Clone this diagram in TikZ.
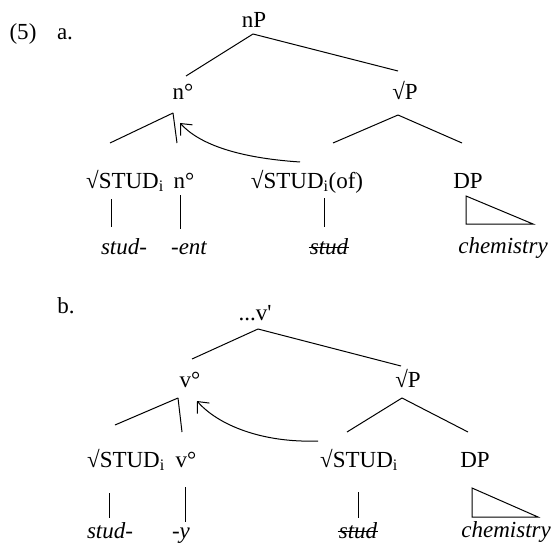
\documentclass[tikz,border=0pt]{standalone}
\usepackage{fontspec}
\setmainfont{Liberation Serif}
\usetikzlibrary{arrows.meta}
\begin{document}
\begin{tikzpicture}[x=1pt,y=-1pt,
  font=\fontsize{23}{27}\selectfont,
  lbl/.style={anchor=base,inner sep=0pt},
  word/.style={anchor=base,inner sep=0pt,font=\fontsize{23}{27}\selectfont\itshape},
  edge/.style={line width=1pt},
  strike/.style={line width=0.9pt},
  mv/.style={line width=1pt,-{Straight Barb[length=9pt,width=16pt]}}]
\useasboundingbox (0,0) rectangle (553,548);

% ---------- labels
\node[lbl] (lab5) at (23,40) {(5)};
\node[lbl] (laba) at (65,40) {a.};
\node[lbl] (labb) at (66,313) {b.};

% ---------- tree a
\node[lbl] (nP)   at (254,28)  {nP};
\node[lbl] (na)   at (183,100) {n°};
\node[lbl] (rPa)  at (405,100) {√P};
\node[lbl] (sa)   at (125,188) {√STUD\textsubscript{i}};
\node[lbl] (n2a)  at (184,188) {n°};
\node[lbl] (sofa) at (307,188) {√STUD\textsubscript{i}(of)};
\node[lbl] (dpa)  at (468,188) {DP};
\node[word] (w1a) at (124,254) {stud-};
\node[word] (w2a) at (189,254) {-ent};
\node[word] (w3a) at (329,254) {stud};
\node[word] (w4a) at (503,253) {chemistry};
\draw[strike] ([shift={(-1,-7)}]w3a.base west) -- ([shift={(1,-7)}]w3a.base east);

\draw[edge] ([shift={(-1,6)}]nP.base) -- ([shift={(3,-24)}]na.base);
\draw[edge] ([shift={(-1,6)}]nP.base) -- ([shift={(-7,-29)}]rPa.base);
\draw[edge] ([shift={(-10,13)}]na.base) -- ([shift={(-15,-45)}]sa.base);
\draw[edge] ([shift={(-10,13)}]na.base) -- ([shift={(-7,-45)}]n2a.base);
\draw[edge] ([shift={(-7,15)}]rPa.base) -- ([shift={(26,-45)}]sofa.base);
\draw[edge] ([shift={(-7,15)}]rPa.base) -- ([shift={(-6,-45)}]dpa.base);
\draw[edge] ([shift={(-14,11)}]sa.base) -- ([shift={(-13,-27)}]w1a.base);
\draw[edge] ([shift={(-4,7)}]n2a.base) -- ([shift={(-9,-25)}]w2a.base);
\draw[edge] ([shift={(17,10)}]sofa.base) -- ([shift={(-5,-27)}]w3a.base);
\draw[edge] ([shift={(-2,8)}]dpa.base) -- ([shift={(-2,36)}]dpa.base) -- ([shift={(65,36)}]dpa.base) -- cycle;
\draw[mv] ([shift={(-7,-26)}]sofa.base) .. controls +(-60,-4) and +(20,22) .. ([shift={(-3,23)}]na.base);

% ---------- tree b
\node[lbl] (vb)   at (255,320) {...v\textquotesingle};
\node[lbl] (vob)  at (190,387) {v°};
\node[lbl] (rPb)  at (408,387) {√P};
\node[lbl] (sb)   at (126,467) {√STUD\textsubscript{i}};
\node[lbl] (v2b)  at (186,467) {v°};
\node[lbl] (s2b)  at (359,467) {√STUD\textsubscript{i}};
\node[lbl] (dpb)  at (475,467) {DP};
\node[word] (w1b) at (110,538) {stud-};
\node[word] (w2b) at (181,538) {-y};
\node[word] (w3b) at (358,538) {stud};
\node[word,anchor=base east] (w4b) at (551,537) {chemistry};
\draw[strike] ([shift={(-1,-7)}]w3b.base west) -- ([shift={(1,-7)}]w3b.base east);

\draw[edge] ([shift={(3,9)}]vb.base) -- ([shift={(2,-28)}]vob.base);
\draw[edge] ([shift={(3,9)}]vb.base) -- ([shift={(-7,-21)}]rPb.base);
\draw[edge] ([shift={(-12,11)}]vob.base) -- ([shift={(-11,-42)}]sb.base);
\draw[edge] ([shift={(-12,11)}]vob.base) -- ([shift={(-4,-35)}]v2b.base);
\draw[edge] ([shift={(-6,11)}]rPb.base) -- ([shift={(-12,-35)}]s2b.base);
\draw[edge] ([shift={(-6,11)}]rPb.base) -- ([shift={(-7,-35)}]dpb.base);
\draw[edge] ([shift={(-17,26)}]sb.base) -- ([shift={(-1,-20)}]w1b.base);
\draw[edge] ([shift={(-1,20)}]v2b.base) -- ([shift={(4,-16)}]w2b.base);
\draw[edge] ([shift={(-1,25)}]s2b.base) -- ([shift={(0,-20)}]w3b.base);
\draw[edge] ([shift={(-3,21)}]dpb.base) -- ([shift={(-3,50)}]dpb.base) -- ([shift={(63,50)}]dpb.base) -- cycle;
\draw[mv] ([shift={(-41,-26)}]s2b.base) .. controls +(-56,2) and +(21,24) .. ([shift={(7,14)}]vob.base);
\end{tikzpicture}
\end{document}
